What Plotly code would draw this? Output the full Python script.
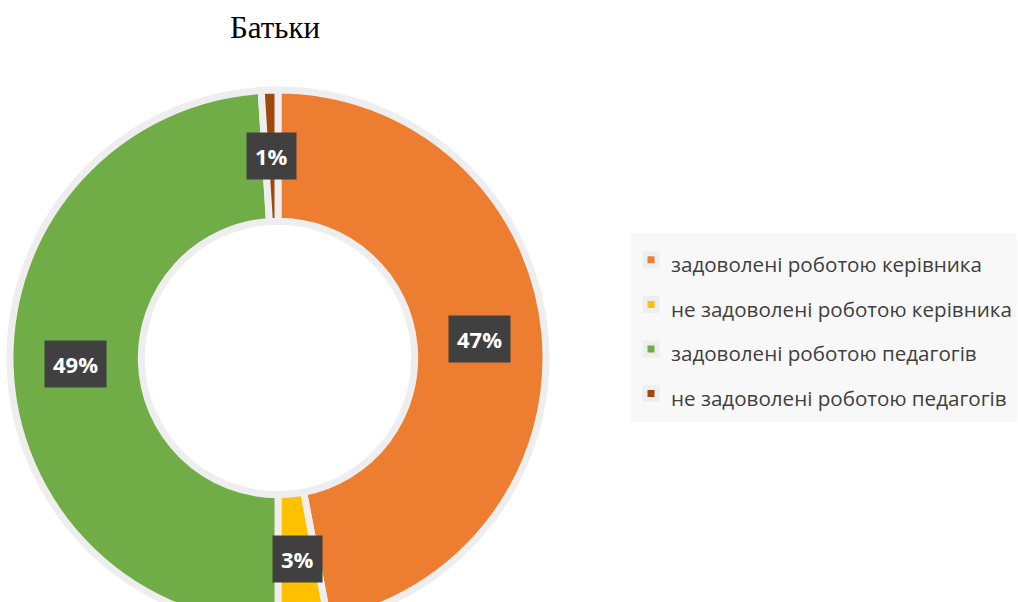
import plotly.graph_objects as go
import math

title = "Батьки"
categories = [
    "задоволені роботою керівника",
    "не задоволені роботою керівника",
    "задоволені роботою педагогів",
    "не задоволені роботою педагогів",
]
values = [47, 3, 49, 1]
colors = ["#ED7D31", "#FFC000", "#70AD47", "#9E480E"]

# layout geometry (pixels)
W, H = 1018, 640
cx, cy, R = 278, 358, 268
hole = 0.51

dom_x = [(cx - R) / W, (cx + R) / W]
dom_y = [1 - (cy + R) / H, 1 - (cy - R) / H]

legend_labels = [f"<span style='font-size:20.6px'>{c}</span>" for c in categories]

fig = go.Figure()
fig.add_trace(go.Pie(
    labels=legend_labels,
    values=values,
    sort=False,
    direction="clockwise",
    rotation=0,
    hole=hole,
    textinfo="none",
    marker=dict(colors=colors, line=dict(color="#eeeeee", width=7)),
    domain=dict(x=dom_x, y=dom_y),
    hoverinfo="label+percent",
))

# data labels in dark boxes, positioned from the values
total = sum(values)
cum = 0
r_mid = R * (1 + hole) / 2
annotations = []
for v in values:
    mid = (cum + v / 2) / total * 2 * math.pi
    cum += v
    px = cx + r_mid * math.sin(mid)
    py = cy - r_mid * math.cos(mid)
    annotations.append(dict(
        x=px / W, y=1 - py / H, xref="paper", yref="paper",
        xanchor="center", yanchor="middle",
        text=f"<b>{round(v / total * 100)}%</b>", showarrow=False,
        font=dict(family="Open Sans", size=22, color="white"),
        bgcolor="#404040", borderpad=8,
    ))

fig.update_layout(
    width=W, height=H,
    margin=dict(l=0, r=0, t=0, b=0, autoexpand=False),
    paper_bgcolor="white",
    title=dict(text=title, x=275 / W, xanchor="center", y=1 - 27 / H, yanchor="middle",
               font=dict(family="Liberation Serif", size=31, color="black")),
    legend=dict(x=631 / W, xanchor="left", y=1 - 327 / H, yanchor="middle",
                bgcolor="#f8f8f8",
                font=dict(family="Open Sans", size=32, color="#404040")),
    annotations=annotations,
)

fig.write_html("out.html", config={"displayModeBar": False},
               post_script="document.body.style.margin='0';document.body.style.overflow='hidden';document.documentElement.style.overflow='hidden';")
